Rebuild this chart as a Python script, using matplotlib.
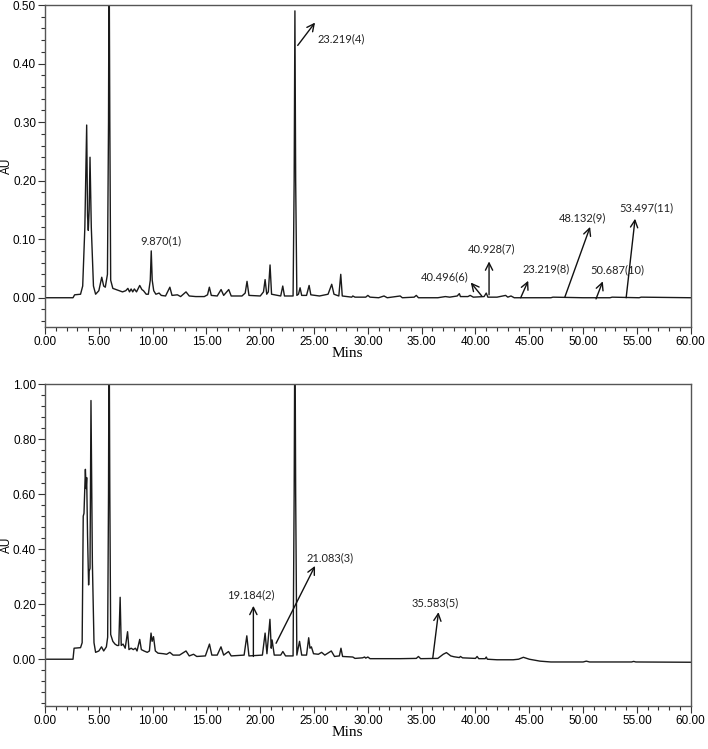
import matplotlib
matplotlib.use("Agg")
import matplotlib.pyplot as plt
from matplotlib.ticker import MultipleLocator, FormatStrFormatter

# ---- chromatogram traces (retention time in min, absorbance in AU) ----
top_time = [0.0, 2.6, 2.75, 3.3, 3.5, 3.7, 3.87, 3.95, 4.02, 4.1, 4.18, 4.3, 4.5, 4.7,
            5.0, 5.27, 5.45, 5.6, 5.8, 5.9, 5.95, 6.02, 6.1, 6.3, 6.6, 6.9, 7.2, 7.5,
            7.7, 7.85, 8.0, 8.15, 8.3, 8.5, 8.8, 9.0, 9.15, 9.4, 9.6, 9.78, 9.87, 9.96,
            10.1, 10.3, 10.6, 10.8, 11.2, 11.6, 11.8, 12.3, 12.6, 13.1, 13.4, 14.0,
            14.8, 15.1, 15.27, 15.45, 16.0, 16.36, 16.6, 17.07, 17.3, 18.3, 18.6,
            18.77, 18.95, 20.0, 20.3, 20.45, 20.6, 20.75, 20.91, 21.05, 21.9, 22.09,
            22.25, 23.05, 23.15, 23.22, 23.29, 23.4, 23.55, 23.7, 23.85, 24.3, 24.54,
            24.7, 25.5, 26.3, 26.64, 26.85, 27.3, 27.48, 27.62, 28.5, 28.6, 28.8,
            29.8, 30.0, 30.2, 31.0, 31.5, 31.8, 33.0, 33.2, 34.3, 34.5, 34.7, 36.5,
            37.2, 37.6, 38.3, 38.5, 38.6, 39.3, 39.5, 39.8, 40.8, 41.0, 41.15, 42.0,
            42.8, 43.0, 43.3, 43.6, 47.0, 47.2, 50.0, 52.5, 52.7, 55.2, 55.4, 60.0]
top_au = [0.0, 0.0, 0.005, 0.006, 0.02, 0.12, 0.295, 0.14, 0.115, 0.15, 0.24, 0.12, 0.02,
          0.006, 0.012, 0.035, 0.02, 0.018, 0.04, 0.3, 0.62, 0.3, 0.03, 0.016, 0.014,
          0.012, 0.01, 0.012, 0.016, 0.01, 0.015, 0.01, 0.015, 0.01, 0.021, 0.014,
          0.012, 0.006, 0.006, 0.03, 0.080, 0.03, 0.012, 0.006, 0.008, 0.004, 0.003,
          0.018, 0.004, 0.005, 0.002, 0.01, 0.003, 0.002, 0.002, 0.005, 0.018, 0.004,
          0.003, 0.014, 0.004, 0.014, 0.003, 0.003, 0.008, 0.028, 0.004, 0.003, 0.01,
          0.031, 0.006, 0.01, 0.056, 0.006, 0.003, 0.02, 0.003, 0.003, 0.2, 0.49, 0.2,
          0.004, 0.006, 0.017, 0.004, 0.004, 0.021, 0.005, 0.003, 0.006, 0.023, 0.006,
          0.003, 0.040, 0.003, 0.001, 0.003, 0.001, 0.001, 0.004, 0.001, 0.0, 0.003,
          0.0, 0.003, 0.0, 0.001, 0.004, 0.0, 0.0, 0.002, 0.001, 0.003, 0.007, 0.002,
          0.002, 0.004, 0.001, 0.002, 0.008, 0.001, 0.001, 0.004, 0.001, 0.003, 0.0,
          0.0, 0.001, 0.0, 0.0, 0.001, 0.0, 0.001, 0.0]

bottom_time = [0.0, 2.6, 2.7, 3.3, 3.45, 3.55, 3.62, 3.75, 3.82, 3.87, 3.95, 4.05, 4.1,
               4.18, 4.27, 4.4, 4.55, 4.7, 5.0, 5.25, 5.45, 5.7, 5.82, 5.9, 5.95, 6.02,
               6.1, 6.3, 6.5, 6.7, 6.85, 6.98, 7.08, 7.25, 7.45, 7.67, 7.8, 8.0, 8.2,
               8.4, 8.55, 8.8, 8.95, 9.2, 9.5, 9.7, 9.85, 9.95, 10.08, 10.25, 10.5,
               11.0, 11.3, 11.6, 11.9, 12.5, 13.1, 13.4, 13.8, 14.1, 14.9, 15.28, 15.5,
               16.0, 16.35, 16.6, 17.05, 17.3, 18.5, 18.75, 18.95, 20.2, 20.45, 20.62,
               20.9, 21.02, 21.1, 21.3, 21.9, 22.1, 22.35, 23.05, 23.15, 23.22, 23.29,
               23.4, 23.65, 23.85, 24.3, 24.5, 24.62, 24.75, 24.95, 25.4, 25.7, 26.0,
               26.6, 26.9, 27.35, 27.5, 27.65, 28.6, 28.8, 29.5, 29.7, 29.8, 30.0, 30.2,
               33.0, 34.5, 34.7, 34.9, 36.5, 37.0, 37.3, 37.7, 38.0, 38.5, 38.6, 38.8,
               40.0, 40.15, 40.3, 40.9, 41.0, 41.1, 42.0, 43.5, 44.0, 44.45, 45.0, 46.0,
               47.0, 50.0, 50.3, 50.6, 54.5, 54.7, 54.9, 60.0]
bottom_au = [0.0, 0.0, 0.04, 0.042, 0.06, 0.52, 0.53, 0.69, 0.62, 0.66, 0.45, 0.27, 0.32,
             0.33, 0.94, 0.35, 0.06, 0.025, 0.03, 0.045, 0.03, 0.045, 0.08, 0.6, 1.3, 0.6,
             0.09, 0.065, 0.055, 0.05, 0.05, 0.225, 0.05, 0.055, 0.04, 0.10, 0.035, 0.04,
             0.035, 0.04, 0.03, 0.072, 0.035, 0.03, 0.025, 0.03, 0.095, 0.065, 0.082,
             0.03, 0.022, 0.02, 0.018, 0.025, 0.015, 0.015, 0.03, 0.012, 0.018, 0.01,
             0.012, 0.055, 0.015, 0.015, 0.045, 0.015, 0.028, 0.012, 0.015, 0.085, 0.012,
             0.015, 0.095, 0.02, 0.145, 0.04, 0.07, 0.015, 0.015, 0.028, 0.012, 0.012,
             0.6, 1.3, 0.6, 0.015, 0.065, 0.015, 0.015, 0.078, 0.04, 0.045, 0.02, 0.018,
             0.025, 0.015, 0.03, 0.01, 0.012, 0.04, 0.01, 0.008, 0.003, 0.005, 0.008,
             0.004, 0.008, 0.002, 0.002, 0.003, 0.01, 0.002, 0.003, 0.018, 0.024, 0.012,
             0.009, 0.006, 0.01, 0.005, 0.003, 0.01, 0.002, 0.002, 0.008, 0.0, -0.002,
             -0.002, 0.0, 0.007, 0.0, -0.007, -0.01, -0.01, -0.007, -0.01, -0.01, -0.008,
             -0.01, -0.011]

# ---- peak labels ----
top_labels = ["9.870(1)", "23.219(4)", "40.496(6)", "40.928(7)", "23.219(8)",
              "48.132(9)", "50.687(10)", "53.497(11)"]
bottom_labels = ["19.184(2)", "21.083(3)", "35.583(5)"]

# label anchor (time, AU), arrow tail, arrow head  (None = no arrow)
top_text_xy = [(10.78, 0.097), (25.3, 0.442), (37.1, 0.036), (41.5, 0.084),
               (46.6, 0.050), (49.9, 0.137), (53.2, 0.048), (55.9, 0.153)]
top_arrows = [None, ((23.48, 0.431), (25.09, 0.470)), ((40.58, 0.003), (39.56, 0.026)),
              ((41.26, 0.005), (41.26, 0.062)), ((44.2, 0.0), (44.9, 0.029)),
              ((48.3, 0.001), (50.65, 0.121)), ((51.2, -0.002), (51.83, 0.028)),
              ((54.0, 0.0), (54.83, 0.135))]
bottom_text_xy = [(19.1, 0.234), (26.5, 0.369), (36.25, 0.206)]
bottom_arrows = [((19.36, 0.01), (19.36, 0.194)), ((21.47, 0.058), (25.09, 0.339)),
                 ((36.03, 0.004), (36.56, 0.171))]

tick_font = "Liberation Sans"
label_font = "Lato"


def style_axis(ax, ymin, ymax, ymajor, yminor):
    ax.set_xlim(0, 60)
    ax.set_ylim(ymin, ymax)
    ax.xaxis.set_major_locator(MultipleLocator(5))
    ax.xaxis.set_minor_locator(MultipleLocator(1))
    ax.yaxis.set_major_locator(MultipleLocator(ymajor))
    ax.yaxis.set_minor_locator(MultipleLocator(yminor))
    ax.xaxis.set_major_formatter(FormatStrFormatter("%.2f"))
    ax.yaxis.set_major_formatter(FormatStrFormatter("%.2f"))
    ax.tick_params(which="major", direction="out", length=5, width=0.8,
                   color="#333333", labelsize=8.5, pad=1.5)
    ax.tick_params(which="minor", direction="out", length=3, width=0.8, color="#333333")
    for lab in ax.get_xticklabels() + ax.get_yticklabels():
        lab.set_fontfamily(tick_font)
    for sp in ax.spines.values():
        sp.set_color("#555555")
        sp.set_linewidth(1.0)
    ax.set_ylabel("AU", fontsize=8.5, fontfamily=tick_font)
    ax.set_xlabel("Mins", fontsize=11, fontfamily="Liberation Serif")


def annotate(ax, labels, text_xy, arrows):
    for i, lab in enumerate(labels):
        tx, ty = text_xy[i]
        ax.text(tx, ty, lab, fontsize=8, fontfamily=label_font, ha="center",
                va="center", color="#222222")
        if arrows[i] is not None:
            tail, head = arrows[i]
            ax.annotate("", xy=head, xytext=tail,
                        arrowprops=dict(arrowstyle="->", lw=1.0, color="#111111",
                                        mutation_scale=13, shrinkA=0, shrinkB=0))


fig = plt.figure(figsize=(7.08, 7.49), dpi=100)
ax1 = fig.add_axes([0.0636, 0.5634, 0.912, 0.4299])
ax2 = fig.add_axes([0.0636, 0.0574, 0.912, 0.4299])

ax1.plot(top_time, top_au, color="#1a1a1a", lw=1.0)
style_axis(ax1, -0.05, 0.50, 0.10, 0.02)
annotate(ax1, top_labels, top_text_xy, top_arrows)
# the 23.219(4) label sits to the right of its arrow head
ax1.texts[1].set_ha("left")

ax2.plot(bottom_time, bottom_au, color="#1a1a1a", lw=1.0)
style_axis(ax2, -0.17, 1.00, 0.20, 0.04)
annotate(ax2, bottom_labels, bottom_text_xy, bottom_arrows)

ax1.xaxis.set_label_coords(0.468, -0.062)
ax2.xaxis.set_label_coords(0.468, -0.062)
ax1.yaxis.set_label_coords(-0.05, 0.5)
ax2.yaxis.set_label_coords(-0.05, 0.5)

fig.savefig("out.png", dpi=100)
